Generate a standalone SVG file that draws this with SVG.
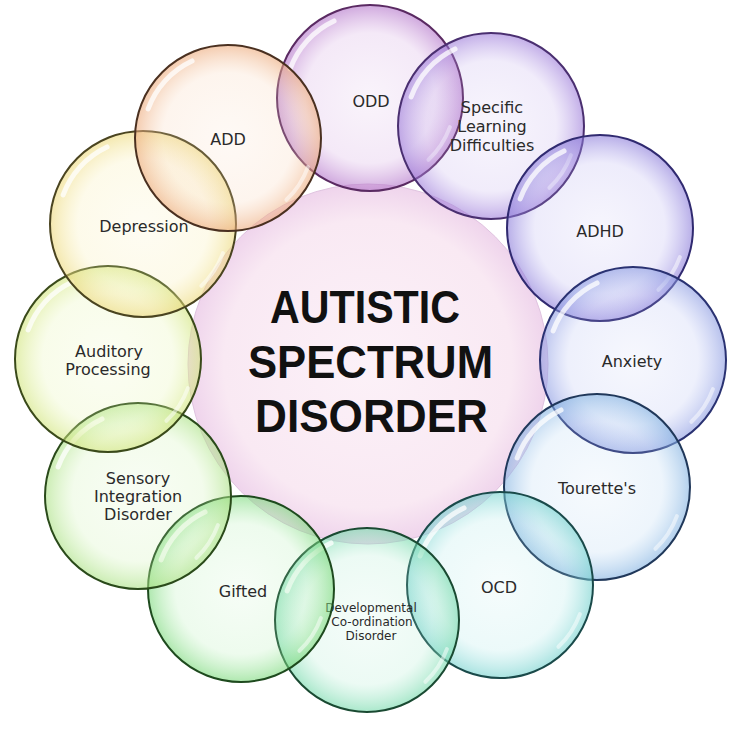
<svg xmlns="http://www.w3.org/2000/svg" width="738" height="738" viewBox="0 0 738 738">
<style>
.bub{stroke-width:2}
.lbl{font-family:"DejaVu Sans","Liberation Sans",sans-serif;font-size:16px;fill:#2a2a2a;text-anchor:middle}
.sm{font-size:12px}
.title{font-family:"Liberation Sans","DejaVu Sans",sans-serif;font-weight:bold;font-size:46px;fill:#111;text-anchor:middle}
.hl{fill:none;stroke:#fff;stroke-width:5;stroke-linecap:round;opacity:.75}
.hl2{fill:none;stroke:#fff;stroke-width:4;stroke-linecap:round;opacity:.5}
</style>
<defs>
<radialGradient id="gC"><stop offset="0" stop-color="#fcf1f8"/><stop offset="0.8" stop-color="#f9e9f3"/><stop offset="1" stop-color="#efd4ec"/></radialGradient>
<radialGradient id="g1"><stop offset="0" stop-color="#c890d8" stop-opacity=".1"/><stop offset=".7" stop-color="#c890d8" stop-opacity=".2"/><stop offset="1" stop-color="#b070c8" stop-opacity=".6"/></radialGradient>
<radialGradient id="g2"><stop offset="0" stop-color="#b8a0e8" stop-opacity=".1"/><stop offset=".7" stop-color="#b8a0e8" stop-opacity=".2"/><stop offset="1" stop-color="#9a78d8" stop-opacity=".6"/></radialGradient>
<radialGradient id="g3"><stop offset="0" stop-color="#a8a0ec" stop-opacity=".1"/><stop offset=".7" stop-color="#a8a0ec" stop-opacity=".2"/><stop offset="1" stop-color="#8878d8" stop-opacity=".6"/></radialGradient>
<radialGradient id="g4"><stop offset="0" stop-color="#a8b4f0" stop-opacity=".1"/><stop offset=".7" stop-color="#a8b4f0" stop-opacity=".2"/><stop offset="1" stop-color="#8898e0" stop-opacity=".6"/></radialGradient>
<radialGradient id="g5"><stop offset="0" stop-color="#a8cef0" stop-opacity=".1"/><stop offset=".7" stop-color="#a8cef0" stop-opacity=".2"/><stop offset="1" stop-color="#80b0e0" stop-opacity=".6"/></radialGradient>
<radialGradient id="g6"><stop offset="0" stop-color="#a0e4e4" stop-opacity=".1"/><stop offset=".7" stop-color="#a0e4e4" stop-opacity=".2"/><stop offset="1" stop-color="#70d0cc" stop-opacity=".6"/></radialGradient>
<radialGradient id="g7"><stop offset="0" stop-color="#a0e8c8" stop-opacity=".1"/><stop offset=".7" stop-color="#a0e8c8" stop-opacity=".2"/><stop offset="1" stop-color="#70d8a8" stop-opacity=".6"/></radialGradient>
<radialGradient id="g8"><stop offset="0" stop-color="#a8eca8" stop-opacity=".1"/><stop offset=".7" stop-color="#a8eca8" stop-opacity=".2"/><stop offset="1" stop-color="#78d878" stop-opacity=".6"/></radialGradient>
<radialGradient id="g9"><stop offset="0" stop-color="#c8f0a8" stop-opacity=".12"/><stop offset=".7" stop-color="#c8f0a8" stop-opacity=".22"/><stop offset="1" stop-color="#a8e080" stop-opacity=".6"/></radialGradient>
<radialGradient id="g10"><stop offset="0" stop-color="#e4f4a8" stop-opacity=".14"/><stop offset=".7" stop-color="#e4f4a8" stop-opacity=".24"/><stop offset="1" stop-color="#d0e478" stop-opacity=".6"/></radialGradient>
<radialGradient id="g11"><stop offset="0" stop-color="#f8eca8" stop-opacity=".14"/><stop offset=".7" stop-color="#f8eca8" stop-opacity=".24"/><stop offset="1" stop-color="#ecd878" stop-opacity=".6"/></radialGradient>
<radialGradient id="g12"><stop offset="0" stop-color="#f8d0b0" stop-opacity=".12"/><stop offset=".7" stop-color="#f8d0b0" stop-opacity=".22"/><stop offset="1" stop-color="#eca878" stop-opacity=".6"/></radialGradient>
<g id="hl">
<path class="hl" d="M -79.87 -29.07 A 85 85 0 0 1 -35.92 -77.04"/>
<path class="hl2" d="M 79.9 29.1 A 85 85 0 0 1 58.4 61.8"/>
</g>
</defs>

<g id="center">
<circle cx="368" cy="364" r="180" fill="url(#gC)" stroke="#e0c4e0" stroke-width="1"/>
<text class="title" x="365" y="323" textLength="190" lengthAdjust="spacingAndGlyphs">AUTISTIC</text>
<text class="title" x="370.5" y="378" textLength="245" lengthAdjust="spacingAndGlyphs">SPECTRUM</text>
<text class="title" x="371.5" y="432" textLength="233" lengthAdjust="spacingAndGlyphs">DISORDER</text>
</g>

<g id="odd">
<circle class="bub" cx="370" cy="98" r="93" fill="url(#g1)" stroke="#5a2a62"/>
<use href="#hl" transform="translate(370,98)"/>
<text class="lbl" x="371" y="107">ODD</text>
</g>
<g id="specific-learning-difficulties">
<circle class="bub" cx="491" cy="126" r="93" fill="url(#g2)" stroke="#4a2f70"/>
<use href="#hl" transform="translate(491,126)"/>
<text class="lbl" x="492" y="113">Specific</text>
<text class="lbl" x="492" y="132">Learning</text>
<text class="lbl" x="492" y="151">Difficulties</text>
</g>
<g id="adhd">
<circle class="bub" cx="600" cy="228" r="93" fill="url(#g3)" stroke="#302a70"/>
<use href="#hl" transform="translate(600,228)"/>
<text class="lbl" x="600" y="237">ADHD</text>
</g>
<g id="anxiety">
<circle class="bub" cx="633" cy="360" r="93" fill="url(#g4)" stroke="#2a3272"/>
<use href="#hl" transform="translate(633,360)"/>
<text class="lbl" x="632" y="367">Anxiety</text>
</g>
<g id="tourettes">
<circle class="bub" cx="597" cy="487" r="93" fill="url(#g5)" stroke="#20385a"/>
<use href="#hl" transform="translate(597,487)"/>
<text class="lbl" x="597" y="494">Tourette's</text>
</g>
<g id="ocd">
<circle class="bub" cx="500" cy="585" r="93" fill="url(#g6)" stroke="#1a4a4a"/>
<use href="#hl" transform="translate(500,585)"/>
<text class="lbl" x="499" y="593">OCD</text>
</g>
<g id="developmental-coordination-disorder">
<circle class="bub" cx="367" cy="620" r="92" fill="url(#g7)" stroke="#1a4a32"/>
<use href="#hl" transform="translate(367,620)"/>
<text class="lbl sm" x="371" y="612">Developmental</text>
<text class="lbl sm" x="372" y="626">Co-ordination</text>
<text class="lbl sm" x="371" y="640">Disorder</text>
</g>
<g id="gifted">
<circle class="bub" cx="241" cy="589" r="93" fill="url(#g8)" stroke="#1e4a1e"/>
<use href="#hl" transform="translate(241,589)"/>
<text class="lbl" x="243" y="597">Gifted</text>
</g>
<g id="sensory-integration-disorder">
<circle class="bub" cx="138" cy="496" r="93" fill="url(#g9)" stroke="#2a4a1a"/>
<use href="#hl" transform="translate(138,496)"/>
<text class="lbl" x="138" y="484">Sensory</text>
<text class="lbl" x="138" y="502">Integration</text>
<text class="lbl" x="138" y="520">Disorder</text>
</g>
<g id="auditory-processing">
<circle class="bub" cx="108" cy="359" r="93" fill="url(#g10)" stroke="#3a4a1a"/>
<use href="#hl" transform="translate(108,359)"/>
<text class="lbl" x="109" y="357">Auditory</text>
<text class="lbl" x="108" y="375">Processing</text>
</g>
<g id="depression">
<circle class="bub" cx="143" cy="224" r="93" fill="url(#g11)" stroke="#4a4420"/>
<use href="#hl" transform="translate(143,224)"/>
<text class="lbl" x="144" y="232">Depression</text>
</g>
<g id="add">
<circle class="bub" cx="228" cy="138" r="93" fill="url(#g12)" stroke="#4a3020"/>
<use href="#hl" transform="translate(228,138)"/>
<text class="lbl" x="228" y="145">ADD</text>
</g>
</svg>
